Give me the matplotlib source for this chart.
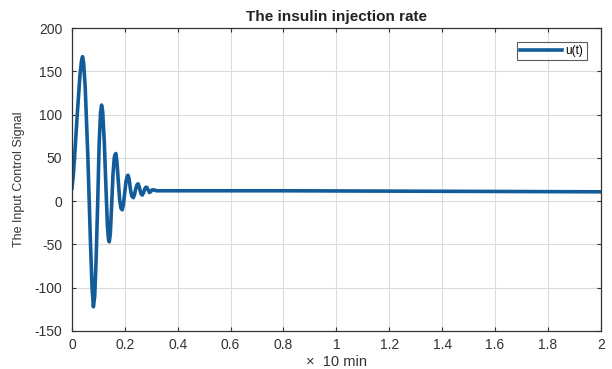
import numpy as np
import matplotlib.pyplot as plt

plt.rcParams['font.family'] = ['Liberation Sans', 'DejaVu Sans']
plt.rcParams['axes.unicode_minus'] = False

# samples (time in units of 10 min)
t = [0.0, 0.005, 0.01, 0.02, 0.03, 0.036, 0.040, 0.044, 0.05, 0.06, 0.07, 0.076,
     0.081, 0.086, 0.091, 0.097, 0.103, 0.108, 0.112, 0.116, 0.122, 0.128, 0.134,
     0.138, 0.141, 0.145, 0.150, 0.155, 0.160, 0.163, 0.166, 0.170, 0.175, 0.180,
     0.185, 0.190, 0.194, 0.199, 0.204, 0.209, 0.212, 0.216, 0.221, 0.226, 0.232,
     0.236, 0.241, 0.246, 0.250, 0.254, 0.258, 0.262, 0.266, 0.271, 0.275, 0.279,
     0.283, 0.288, 0.293, 0.298, 0.303, 0.31, 0.32, 0.34, 0.37, 0.4, 0.6, 0.8,
     1.0, 1.2, 1.4, 1.6, 1.8, 2.0]
u = [15, 30, 52, 100, 145, 162, 167, 160, 132, 52, -48, -100,
     -122, -110, -70, -5, 68, 102, 111, 104, 70, 20, -28,
     -44, -47, -38, -5, 30, 50, 54, 55, 46, 24, 3,
     -8, -10, -5, 8, 22, 29, 30, 26, 14, 6, 4,
     7, 14, 19, 20, 17, 12, 8, 7, 10, 14, 16,
     16, 13, 10, 11, 13, 13, 12, 12, 12, 12, 12, 12,
     11.8, 11.6, 11.4, 11.2, 11.0, 10.8]

xticks = [0, 0.2, 0.4, 0.6, 0.8, 1, 1.2, 1.4, 1.6, 1.8, 2]
xticklabels = ['0', '0.2', '0.4', '0.6', '0.8', '1', '1.2', '1.4', '1.6', '1.8', '2']
yticks = [-150, -100, -50, 0, 50, 100, 150, 200]

fig = plt.figure(figsize=(6.12, 3.69), dpi=100)
ax = fig.add_axes([0.1176, 0.103, 0.864, 0.821])

ax.plot(t, u, color='#125c9a', linewidth=2.6, label='u(t)')

ax.set_xlim(0, 2)
ax.set_ylim(-150, 200)
ax.set_xticks(xticks)
ax.set_xticklabels(xticklabels)
ax.set_yticks(yticks)
ax.grid(True, color='#dcdcdc', linewidth=0.8)
ax.set_axisbelow(True)
ax.tick_params(direction='in', top=True, right=True, length=3, labelsize=10,
               colors='#333333', labelcolor='#333333')
ax.tick_params(axis='y', pad=7)
ax.tick_params(axis='x', pad=5)
for s in ax.spines.values():
    s.set_color('#333333')
    s.set_linewidth(0.9)

ax.set_title('The insulin injection rate', fontsize=11, fontweight='bold',
             color='#222222', pad=5)
ax.set_xlabel('\u00d7  10 min', fontsize=10.5, color='#333333', labelpad=2)
ax.set_ylabel('The Input Control Signal', fontsize=9, color='#333333', labelpad=7)

leg = ax.legend(loc='upper right', fontsize=8.5, frameon=True, fancybox=False,
                handlelength=3.6, borderpad=0.25, borderaxespad=1.2, handletextpad=0.3)
leg.get_frame().set_edgecolor('#333333')
leg.get_frame().set_linewidth(0.8)

fig.savefig('out.png', dpi=100)
